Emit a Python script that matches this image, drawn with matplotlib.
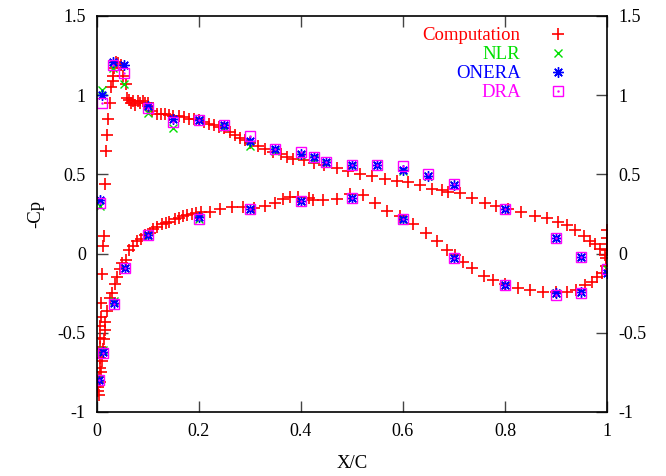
import numpy as np
import matplotlib
matplotlib.use('Agg')
import matplotlib.pyplot as plt

plt.rcParams['font.family'] = ['Liberation Serif', 'DejaVu Serif']
plt.rcParams['axes.unicode_minus'] = False

# computation, upper surface (from stagnation point to trailing edge)
comp_up_x = [0.003, 0.003, 0.004, 0.005, 0.005, 0.006, 0.006, 0.006, 0.007, 0.008,
             0.010, 0.012, 0.013, 0.015, 0.018, 0.019, 0.022, 0.025, 0.028, 0.031,
             0.032, 0.034, 0.037, 0.042, 0.048, 0.052, 0.056, 0.058, 0.062, 0.066,
             0.070, 0.075, 0.080, 0.085, 0.090, 0.095, 0.100, 0.108, 0.117, 0.125,
             0.133, 0.142, 0.150, 0.160, 0.170, 0.180, 0.190, 0.200, 0.210, 0.220,
             0.230, 0.240, 0.250, 0.260, 0.270, 0.280, 0.290, 0.300, 0.315, 0.330,
             0.345, 0.360, 0.372, 0.385, 0.405, 0.425, 0.446, 0.470, 0.493, 0.516,
             0.539, 0.565, 0.588, 0.610, 0.633, 0.656, 0.676, 0.689, 0.712, 0.735,
             0.760, 0.782, 0.805, 0.831, 0.858, 0.882, 0.903, 0.921, 0.937, 0.954,
             0.967, 0.976, 0.986, 0.996, 0.999, 1.0, 1.0, 1.0, 1.0]
comp_up_y = [-0.87, -0.84, -0.78, -0.72, -0.66, -0.59, -0.53, -0.46, -0.40, -0.31,
             -0.13, 0.05, 0.11, 0.44, 0.65, 0.75, 0.85, 0.95, 1.05, 1.09,
             1.12, 1.17, 1.21, 1.20, 1.19, 1.12, 1.07, 0.98, 0.97, 0.95,
             0.96, 0.94, 0.96, 0.95, 0.96, 0.95, 0.95, 0.90, 0.88, 0.88,
             0.88, 0.875, 0.87, 0.87, 0.86, 0.85, 0.85, 0.84, 0.83, 0.82,
             0.81, 0.80, 0.79, 0.77, 0.75, 0.73, 0.72, 0.70, 0.68, 0.66,
             0.64, 0.63, 0.61, 0.60, 0.59, 0.57, 0.56, 0.54, 0.52, 0.50,
             0.49, 0.47, 0.46, 0.45, 0.43, 0.41, 0.40, 0.39, 0.38, 0.35,
             0.32, 0.30, 0.28, 0.26, 0.24, 0.225, 0.20, 0.18, 0.15, 0.11,
             0.08, 0.06, 0.03, -0.01, -0.03, 0.15, 0.10, 0.06, 0.025]

# computation, lower surface
comp_lo_x = [0.004, 0.006, 0.008, 0.010, 0.012, 0.013, 0.015, 0.016, 0.020, 0.026,
             0.029, 0.036, 0.039, 0.045, 0.050, 0.056, 0.062, 0.070, 0.078, 0.086,
             0.095, 0.103, 0.110, 0.118, 0.127, 0.135, 0.142, 0.153, 0.160, 0.168,
             0.177, 0.186, 0.195, 0.203, 0.222, 0.241, 0.264, 0.287, 0.308, 0.329,
             0.349, 0.365, 0.378, 0.395, 0.416, 0.423, 0.444, 0.470, 0.496, 0.522,
             0.545, 0.569, 0.594, 0.620, 0.645, 0.666, 0.686, 0.702, 0.718, 0.735,
             0.758, 0.777, 0.800, 0.826, 0.849, 0.875, 0.900, 0.921, 0.940, 0.957,
             0.970, 0.980, 0.990, 0.999]
comp_lo_y = [-0.89, -0.81, -0.75, -0.68, -0.60, -0.54, -0.48, -0.43, -0.36, -0.28,
             -0.25, -0.19, -0.15, -0.10, -0.06, -0.04, 0.02, 0.05, 0.08, 0.09,
             0.12, 0.13, 0.155, 0.17, 0.185, 0.195, 0.20, 0.22, 0.225, 0.235,
             0.245, 0.25, 0.255, 0.26, 0.26, 0.28, 0.295, 0.295, 0.29, 0.30,
             0.32, 0.345, 0.355, 0.355, 0.35, 0.34, 0.335, 0.345, 0.375, 0.37,
             0.32, 0.27, 0.235, 0.185, 0.13, 0.08, 0.025, -0.01, -0.055, -0.09,
             -0.14, -0.17, -0.19, -0.215, -0.23, -0.24, -0.24, -0.24, -0.23, -0.20,
             -0.18, -0.15, -0.12, -0.08]

# experiments, upper surface
exp_up_x = [0.006, 0.010, 0.031, 0.053, 0.1, 0.15, 0.2, 0.25, 0.3, 0.35, 0.4,
            0.425, 0.45, 0.5, 0.55, 0.6, 0.65, 0.7, 0.8, 0.9, 0.95, 1.0]
onera_up = [0.34, 1.00, 1.21, 1.19, 0.93, 0.85, 0.84, 0.81, 0.71, 0.66, 0.63,
            0.61, 0.58, 0.56, 0.56, 0.53, 0.49, 0.43, 0.28, 0.10, -0.02, -0.12]
nlr_up = [0.30, 1.03, 1.17, 1.07, 0.89, 0.79, 0.84, 0.80, 0.68, 0.65, 0.62,
          0.60, 0.57, 0.55, 0.56, 0.52, 0.49, 0.43, 0.28, 0.10, -0.02, -0.10]
dra_up = [0.32, 0.95, 1.19, 1.14, 0.92, 0.83, 0.84, 0.81, 0.74, 0.66, 0.64,
          0.61, 0.58, 0.56, 0.56, 0.55, 0.50, 0.44, 0.28, 0.10, -0.02, -0.10]

# experiments, lower surface
exp_lo_x = [0.004, 0.012, 0.033, 0.054, 0.1, 0.2, 0.3, 0.4, 0.5, 0.6, 0.7,
            0.8, 0.9, 0.95]
onera_lo = [-0.80, -0.62, -0.31, -0.09, 0.12, 0.23, 0.28, 0.33, 0.35, 0.22,
            -0.03, -0.20, -0.25, -0.24]
nlr_lo = [-0.79, -0.61, -0.30, -0.09, 0.11, 0.22, 0.28, 0.33, 0.35, 0.21,
          -0.03, -0.20, -0.25, -0.24]
dra_lo = [-0.80, -0.63, -0.32, -0.09, 0.12, 0.22, 0.28, 0.33, 0.35, 0.22,
          -0.03, -0.20, -0.26, -0.25]

red = '#ff0000'
green = '#00e000'
blue = '#0000ff'
magenta = '#ff00ff'

fig = plt.figure(figsize=(6.66, 4.76), dpi=100)
ax = fig.add_axes([0.1456, 0.1345, 0.7658, 0.832])

cx = comp_up_x + comp_lo_x
cy = comp_up_y + comp_lo_y
ex = exp_up_x + exp_lo_x

h1, = ax.plot(cx, cy, '+', color=red, ms=8, mew=1.2, ls='none')
h2, = ax.plot(ex, nlr_up + nlr_lo, 'x', color=green, ms=6, mew=1.0, ls='none')
h3, = ax.plot(ex, onera_up + onera_lo, marker=(8, 2, 0), color=blue, ms=7.5,
              mew=1.0, ls='none')
h4a, = ax.plot(ex, dra_up + dra_lo, 's', mfc='none', mec=magenta, ms=7,
               mew=1.0, ls='none')
h4b, = ax.plot(ex, dra_up + dra_lo, '.', color=magenta, ms=1.5, ls='none')

ax.set_xlim(0, 1)
ax.set_ylim(-1, 1.5)
ax.set_xticks([0, 0.2, 0.4, 0.6, 0.8, 1])
ax.set_xticklabels(['0', '0.2', '0.4', '0.6', '0.8', '1'])
ax.set_yticks([-1, -0.5, 0, 0.5, 1, 1.5])
ax.set_yticklabels(['-1', '-0.5', '0', '0.5', '1', '1.5'])
ax.tick_params(direction='in', length=8, width=1, labelsize=13,
               top=True, right=True, labelright=True, pad=8,
               color='#444444')
for s in ax.spines.values():
    s.set_linewidth(1.2)

ax.set_xlabel('X/C', fontsize=13.5, labelpad=11)
ax.set_ylabel('-Cp', fontsize=13.5, labelpad=10)

leg = ax.legend([h1, h2, h3, (h4a, h4b)], ['Computation', 'NLR', 'ONERA', 'DRA'],
                loc='upper right', bbox_to_anchor=(0.948, 1.005), frameon=False,
                markerfirst=False, fontsize=13.5, handlelength=1.0,
                handletextpad=1.5, labelspacing=0.1, borderpad=0.2)
for t, c in zip(leg.get_texts(), [red, green, blue, magenta]):
    t.set_color(c)

fig.savefig('out.png', dpi=100)
